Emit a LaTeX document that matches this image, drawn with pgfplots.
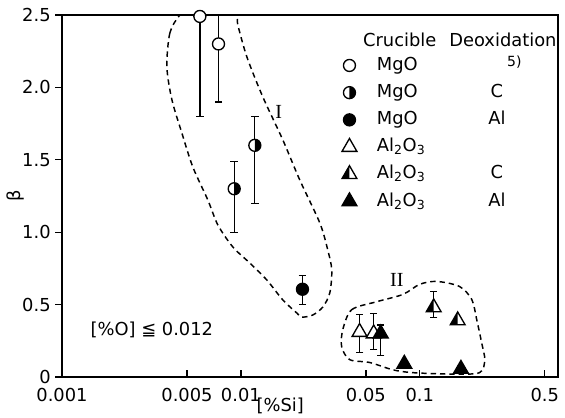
\documentclass[border=0pt]{standalone}
\usepackage{pgfplots}
\pgfplotsset{compat=1.18}
\usepackage{fontspec}
\setmainfont{DejaVu Sans}
\newfontfamily\seriffont{Liberation Serif}

\pgfdeclareplotmark{halfcircle}{%
  \begin{pgfscope}\pgfsetfillcolor{white}%
    \pgfpathcircle{\pgfpointorigin}{\pgfplotmarksize}\pgfusepathqfill
  \end{pgfscope}%
  \pgfpathmoveto{\pgfqpoint{0pt}{\pgfplotmarksize}}%
  \pgfpatharc{90}{-90}{\pgfplotmarksize}%
  \pgfpathclose
  \pgfusepathqfill
  \pgfpathcircle{\pgfpointorigin}{\pgfplotmarksize}%
  \pgfusepathqstroke
}
\pgfdeclareplotmark{halftriangle}{%
  \begin{pgfscope}\pgfsetfillcolor{white}%
    \pgfpathmoveto{\pgfqpointpolar{90}{1.4\pgfplotmarksize}}%
    \pgfpathlineto{\pgfqpointpolar{-30}{1.4\pgfplotmarksize}}%
    \pgfpathlineto{\pgfqpointpolar{210}{1.4\pgfplotmarksize}}%
    \pgfpathclose\pgfusepathqfill
  \end{pgfscope}%
  \pgfpathmoveto{\pgfqpointpolar{90}{1.4\pgfplotmarksize}}%
  \pgfpathlineto{\pgfqpointpolar{210}{1.4\pgfplotmarksize}}%
  \pgfpathlineto{\pgfpoint{0pt}{-0.7\pgfplotmarksize}}%
  \pgfpathclose\pgfusepathqfill
  \pgfpathmoveto{\pgfqpointpolar{90}{1.4\pgfplotmarksize}}%
  \pgfpathlineto{\pgfqpointpolar{-30}{1.4\pgfplotmarksize}}%
  \pgfpathlineto{\pgfqpointpolar{210}{1.4\pgfplotmarksize}}%
  \pgfpathclose\pgfusepathqstroke
}
\pgfdeclareplotmark{tri}{%
  \pgfpathmoveto{\pgfqpointpolar{90}{1.4\pgfplotmarksize}}%
  \pgfpathlineto{\pgfqpointpolar{-30}{1.4\pgfplotmarksize}}%
  \pgfpathlineto{\pgfqpointpolar{210}{1.4\pgfplotmarksize}}%
  \pgfpathclose\pgfusepathqfillstroke
}

\newcommand{\fs}{\fontsize{13.4}{16}\selectfont}

\begin{document}
\begin{tikzpicture}
\path[use as bounding box] (-46.5pt,-30.75pt) rectangle (377.25pt,282.75pt);
\begin{axis}[
  xmode=log, scale only axis, width=372pt, height=271.5pt,
  xmin=0.001, xmax=0.593, ymin=0, ymax=2.5,
  xtick={0.001,0.005,0.01,0.05,0.1,0.5},
  xticklabels={0.001,0.005,0.01,0.05,0.1,0.5},
  ytick={0,0.5,1,1.5,2,2.5},
  yticklabels={0,0.5,1.0,1.5,2.0,2.5},
  minor xtick={},
  tick pos=left,
  xtick align=inside, ytick align=outside,
  major tick length=5pt,
  axis line style={line width=1.2pt},
  tick style={line width=1pt, black},
  ticklabel style={font=\fs},
  xticklabel style={yshift=-5pt},
  /pgf/number format/assume math mode=true,
  xlabel={[\%Si]}, ylabel={β},
  label style={font=\fs},
  xlabel style={at={(axis description cs:0.44,0)}, anchor=center, yshift=-21.5pt},
  ylabel style={at={(axis description cs:-0.094,0.5)}, anchor=center},
  every axis plot/.append style={line width=1pt, black},
  error bars/error bar style={line width=1pt},
  error bars/error mark=-,
  error bars/error mark options={rotate=90, mark size=2.8pt, line width=1pt},
  legend style={draw=none, fill=none, font=\fs, at={(axis description cs:0.556,0.90)}, anchor=north west,
    row sep=3.4pt, nodes={inner sep=1pt, text height=11pt, text depth=4pt}},
  legend cell align=left,
]
% region I
\addplot[dash pattern=on 4pt off 3pt, line width=1.1pt, smooth cycle, forget plot] coordinates {
 (0.00456,2.50) (0.00401,2.376) (0.00386,2.141) (0.00412,1.913) (0.00468,1.685)
 (0.00539,1.450) (0.00654,1.222) (0.00744,1.050) (0.00902,0.898) (0.01122,0.787)
 (0.01397,0.670) (0.01717,0.532) (0.02055,0.442) (0.02193,0.414) (0.02523,0.428)
 (0.02871,0.483) (0.03141,0.580) (0.03223,0.739) (0.03062,0.877) (0.02763,1.064)
 (0.02136,1.360) (0.01717,1.637) (0.01327,1.934) (0.01081,2.210) (0.00962,2.431)
 (0.00950,2.486) (0.00815,2.59) (0.00553,2.59)
};
% region II
\addplot[dash pattern=on 4pt off 3pt, line width=1.1pt, smooth cycle, forget plot] coordinates {
 (0.0372,0.33) (0.0417,0.465) (0.0575,0.52) (0.0804,0.57) (0.1,0.64) (0.1245,0.66)
 (0.167,0.625) (0.1955,0.535) (0.208,0.40) (0.222,0.236) (0.231,0.118) (0.216,0.03)
 (0.153,0.02) (0.0914,0.03) (0.0706,0.05) (0.0526,0.10) (0.0406,0.12) (0.0366,0.21)
};
% MgO open
\addplot[only marks, mark=*, mark size=4.5pt, mark options={fill=white}, forget plot,
  error bars/.cd, y dir=both, y explicit] coordinates {
 (0.0059,2.49) += (0,0.3) -= (0,0.69)
 (0.0075,2.30) += (0,0.2) -= (0,0.40)
};
% MgO C
\addplot[only marks, mark=halfcircle, mark size=4.5pt, mark options={fill=black}, forget plot,
  error bars/.cd, y dir=both, y explicit] coordinates {
 (0.00918,1.30) += (0,0.19) -= (0,0.30)
 (0.01197,1.60) += (0,0.20) -= (0,0.40)
};
% MgO Al
\addplot[only marks, mark=*, mark size=4.5pt, mark options={fill=black}, forget plot,
  error bars/.cd, y dir=both, y explicit] coordinates {
 (0.0221,0.606) += (0,0.094) -= (0,0.106)
};
% Al2O3 open
\addplot[only marks, mark=tri, mark size=4.6pt, mark options={fill=white}, forget plot,
  error bars/.cd, y dir=both, y explicit] coordinates {
 (0.0461,0.31) += (0,0.12) -= (0,0.14)
 (0.0553,0.30) += (0,0.14) -= (0,0.11)
};
% Al2O3 Al with error
\addplot[only marks, mark=tri, mark size=4.6pt, mark options={fill=black}, forget plot,
  error bars/.cd, y dir=both, y explicit] coordinates {
 (0.0605,0.30) += (0,0.06) -= (0,0.15)
};
% Al2O3 C
\addplot[only marks, mark=halftriangle, mark size=4.6pt, mark options={fill=black}, forget plot,
  error bars/.cd, y dir=both, y explicit] coordinates {
 (0.1197,0.48) += (0,0.11) -= (0,0.07)
};
\addplot[only marks, mark=halftriangle, mark size=4.6pt, mark options={fill=black}, forget plot] coordinates {
 (0.163,0.39)
};
% Al2O3 Al
\addplot[only marks, mark=tri, mark size=4.6pt, mark options={fill=black}, forget plot] coordinates {
 (0.082,0.09) (0.170,0.055)
};
% legend
\addlegendimage{only marks, mark=*, mark size=4.5pt, mark options={fill=white}}
\addlegendentry{\hspace*{14pt}\makebox[75pt][l]{MgO}\makebox[30pt]{}}
\addlegendimage{only marks, mark=halfcircle, mark size=4.5pt, mark options={fill=black}}
\addlegendentry{\hspace*{14pt}\makebox[75pt][l]{MgO}\makebox[30pt]{C}}
\addlegendimage{only marks, mark=*, mark size=4.5pt, mark options={fill=black}}
\addlegendentry{\hspace*{14pt}\makebox[75pt][l]{MgO}\makebox[30pt]{Al}}
\addlegendimage{only marks, mark=tri, mark size=4.6pt, mark options={fill=white}}
\addlegendentry{\hspace*{14pt}\makebox[75pt][l]{Al\textsubscript{2}O\textsubscript{3}}\makebox[30pt]{}}
\addlegendimage{only marks, mark=halftriangle, mark size=4.6pt, mark options={fill=black}}
\addlegendentry{\hspace*{14pt}\makebox[75pt][l]{Al\textsubscript{2}O\textsubscript{3}}\makebox[30pt]{C}}
\addlegendimage{only marks, mark=tri, mark size=4.6pt, mark options={fill=black}}
\addlegendentry{\hspace*{14pt}\makebox[75pt][l]{Al\textsubscript{2}O\textsubscript{3}}\makebox[30pt]{Al}}
% texts
\node[font=\fs] at (axis description cs:0.681,0.931) {Crucible};
\node[font=\fs] at (axis description cs:0.889,0.931) {Deoxidation};
\node[font=\fontsize{10.5}{12}\selectfont] at (axis description cs:0.912,0.870) {5)};
\node[font=\fs] at (axis cs:0.00318,0.325) {[\%O] ≦ 0.012};
\node[font=\seriffont\fontsize{15}{16}\selectfont] at (axis cs:0.0163,1.83) {I};
\node[font=\seriffont\fontsize{15}{16}\selectfont] at (axis cs:0.0745,0.67) {II};
\end{axis}
\end{tikzpicture}
\end{document}
